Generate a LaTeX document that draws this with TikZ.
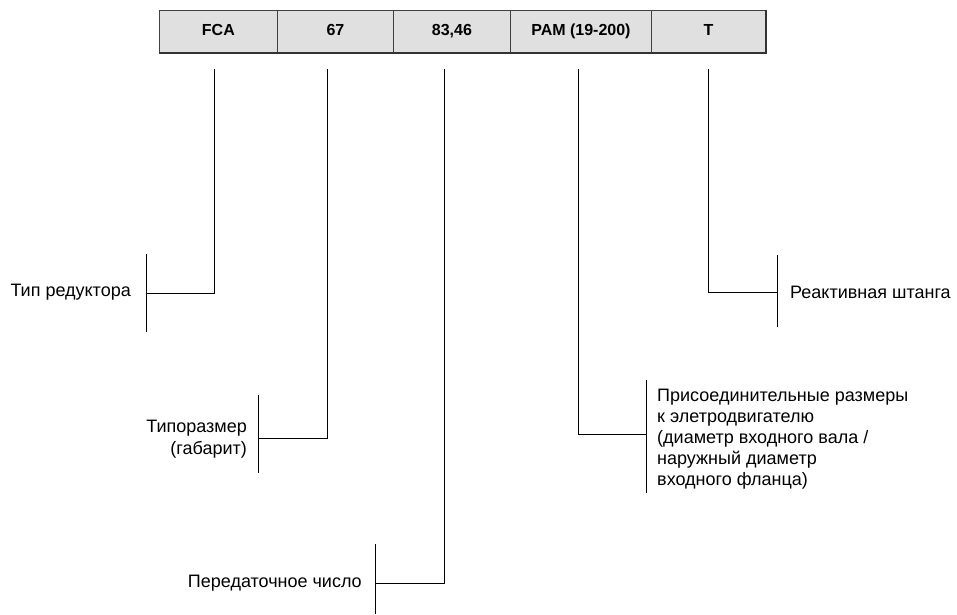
\documentclass[tikz,border=0pt]{standalone}
\usepackage{fontspec}
\setmainfont{Liberation Sans}
\begin{document}
\begin{tikzpicture}[x=1pt,y=-1pt,
  cell/.style={draw=black!75, fill=black!12, line width=0.8pt, minimum height=42pt, inner sep=0pt, text height=11.5pt, text depth=2.5pt, font=\fontsize{16}{18}\selectfont\bfseries, anchor=north west},
  lbl/.style={font=\fontsize{18}{21}\selectfont, inner sep=0pt},
  conn/.style={line width=0.9pt, black},
  bar/.style={line width=1pt, black}]
\useasboundingbox (0,0) rectangle (957,614);
% header cells
\node[cell, minimum width=118pt] (c1) at (159,10) {FCA};
\node[cell, minimum width=116pt] (c2) at (277,10) {67};
\node[cell, minimum width=117pt] (c3) at (393,10) {83,46};
\node[cell, minimum width=141pt] (c4) at (510,10) {PAM (19-200)};
\node[cell, minimum width=114pt] (c5) at (651,10) {T};
\draw[line width=1.6pt, black!80] (c1.south west) -- (c5.south east) -- (c5.north east);
% connector starts
\coordinate (s1) at (214,69);
\coordinate (s2) at (327,69);
\coordinate (s3) at (444,69);
\coordinate (s4) at (578,69);
\coordinate (s5) at (708,69);
% bars
\coordinate (b1t) at (146,254); \coordinate (b1b) at (146,332); \coordinate (b1) at (146,293);
\coordinate (b2t) at (258,395); \coordinate (b2b) at (258,473); \coordinate (b2) at (258,438);
\coordinate (b3t) at (375,544); \coordinate (b3b) at (375,614); \coordinate (b3) at (375,583);
\coordinate (b4t) at (646,380); \coordinate (b4b) at (646,493); \coordinate (b4) at (646,434);
\coordinate (b5t) at (777,255); \coordinate (b5b) at (777,327); \coordinate (b5) at (777,292);
\foreach \i in {1,...,5} {\draw[bar] (b\i t) -- (b\i b);}
\draw[conn] (s1) |- (b1);
\draw[conn] (s2) |- (b2);
\draw[conn] (s3) |- (b3);
\draw[conn] (s4) |- (b4);
\draw[conn] (s5) |- (b5);
% labels
\node[lbl, anchor=east] (l1) at (131,292) {Тип редуктора};
\node[lbl, anchor=east, align=right, font=\fontsize{18}{22}\selectfont] (l2) at (247,439) {Типоразмер\\(габарит)};
\node[lbl, anchor=east] (l3) at (362,583) {Передаточное число};
\node[lbl, anchor=west, align=left] (l4) at (657,439) {Присоединительные размеры\\к элетродвигателю\\(диаметр входного вала /\\наружный диаметр\\входного фланца)};
\node[lbl, anchor=west] (l5) at (790,292) {Реактивная штанга};
\end{tikzpicture}
\end{document}
